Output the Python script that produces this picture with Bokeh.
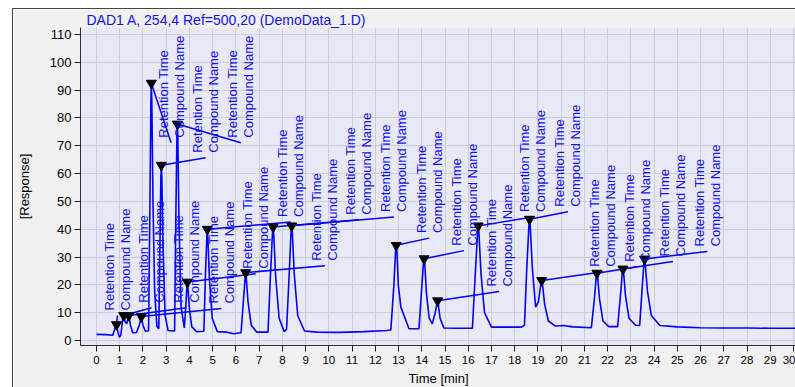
import math
from bokeh.plotting import figure
from bokeh.models import Range1d, FixedTicker, ColumnDataSource
from bokeh.embed import file_html
from bokeh.resources import INLINE
from bokeh.core.properties import value

# ---------------- data ----------------
chart_title = "DAD1 A, 254,4 Ref=500,20 (DemoData_1.D)"
x_label = "Time [min]"
y_label = "[Response]"
x_ticks = list(range(0, 31))
y_ticks = list(range(0, 111, 10))

# chromatogram trace (time in min, response)
signal_time = [
    0.00, 0.40, 0.70, 0.80, 0.86, 0.92, 0.98, 1.05, 1.12, 1.17, 1.24, 1.30, 1.34, 1.39, 1.46, 1.56,
    1.72, 1.84, 1.93, 2.00, 2.10, 2.24, 2.30, 2.34, 2.36, 2.38, 2.43, 2.50, 2.60, 2.68, 2.73, 2.77,
    2.79, 2.81, 2.86, 2.95, 3.08, 3.36, 3.41, 3.46, 3.48, 3.50, 3.55, 3.64, 3.78, 3.84, 3.89, 3.91,
    3.93, 3.99, 4.10, 4.30, 4.62, 4.69, 4.75, 4.77, 4.79, 4.86, 4.98, 5.20, 5.60, 5.90, 6.22, 6.33,
    6.40, 6.42, 6.44, 6.52, 6.66, 6.90, 7.38, 7.49, 7.57, 7.60, 7.63, 7.71, 7.86, 8.08, 8.18, 8.30,
    8.37, 8.40, 8.43, 8.51, 8.66, 8.95, 9.50, 10.50, 11.50, 12.50, 12.67, 12.80, 12.87, 12.90, 12.93, 12.99,
    13.10, 13.45, 13.88, 13.99, 14.07, 14.10, 14.13, 14.20, 14.32, 14.45, 14.58, 14.66, 14.68, 14.70, 14.79, 14.95,
    15.50, 16.18, 16.31, 16.40, 16.43, 16.46, 16.55, 16.70, 17.00, 17.60, 18.30, 18.42, 18.52, 18.61, 18.64, 18.67,
    18.76, 18.90, 19.02, 19.13, 19.16, 19.19, 19.29, 19.45, 19.75, 20.10, 20.50, 21.30, 21.43, 21.51, 21.54, 21.57,
    21.65, 21.80, 22.05, 22.43, 22.55, 22.63, 22.66, 22.69, 22.77, 22.92, 23.20, 23.38, 23.48, 23.56, 23.59, 23.62,
    23.71, 23.88, 24.25, 25.00, 26.00, 27.00, 28.00, 29.00, 30.50,
]
signal_resp = [
    2.2, 2.1, 1.9, 4.5, 5.7, 3.0, 1.2, 2.0, 7.5, 9.0, 6.5, 6.0, 7.5, 9.0, 5.5, 2.8,
    2.9, 5.5, 8.6, 5.5, 3.3, 3.5, 50.0, 86.0, 92.5, 86.0, 50.0, 18.0, 5.0, 4.2, 35.0, 59.0,
    63.0, 59.0, 35.0, 9.0, 3.6, 3.4, 42.0, 73.0, 77.8, 73.0, 42.0, 12.0, 4.5, 12.0, 19.5, 21.0,
    19.5, 12.0, 5.0, 3.2, 3.3, 24.0, 37.5, 40.0, 37.5, 22.0, 8.0, 3.2, 3.0, 2.4, 2.8, 15.0,
    23.0, 24.4, 23.0, 14.0, 5.5, 3.0, 3.0, 24.0, 38.0, 40.8, 38.0, 23.0, 8.0, 3.2, 4.0, 25.0,
    38.5, 41.2, 38.5, 24.0, 9.0, 3.4, 3.0, 2.9, 3.2, 3.6, 3.8, 20.0, 32.0, 34.2, 32.0, 20.0,
    12.0, 4.2, 4.2, 18.0, 27.5, 29.4, 27.5, 17.0, 8.0, 6.0, 10.0, 13.6, 14.3, 13.6, 8.0, 4.5,
    4.4, 4.4, 25.0, 38.5, 41.2, 38.5, 24.0, 10.0, 4.8, 4.8, 4.8, 5.5, 26.0, 41.0, 43.6, 41.0,
    26.0, 12.0, 14.0, 20.5, 21.6, 20.5, 13.0, 7.0, 5.2, 5.4, 4.9, 4.6, 15.0, 22.8, 24.2, 22.8,
    15.0, 7.0, 5.0, 5.0, 16.0, 24.2, 25.7, 24.2, 16.0, 8.0, 5.5, 5.4, 18.0, 27.6, 29.3, 27.6,
    18.0, 9.0, 5.4, 4.9, 4.6, 4.5, 4.5, 4.4, 4.4,
]

# peak apexes (marked with triangles)
peak_rt = [0.86, 1.17, 1.39, 1.93, 2.36, 2.79, 3.48, 3.91, 4.77, 6.42, 7.60,
           8.40, 12.90, 14.10, 14.68, 16.43, 18.64, 19.16, 21.54, 22.66, 23.59]
peak_height = [5.7, 9.0, 9.0, 8.6, 92.5, 63.0, 77.8, 21.0, 40.0, 24.4, 40.8,
               41.2, 34.2, 29.4, 14.3, 41.2, 43.6, 21.6, 24.2, 25.7, 29.3]

# where each peak's leader line ends and its label block starts
label_time = [0.90, 2.37, 3.86, 5.37, 3.21, 4.70, 6.21, 6.85, 8.36, 9.83, 11.29,
              12.80, 14.32, 15.82, 17.33, 18.78, 20.29, 21.80, 23.28, 24.81, 26.29]
label_resp = [9.0, 11.8, 11.8, 11.5, 71.1, 65.7, 71.1, 24.0, 42.6, 26.9, 43.4,
              44.4, 36.8, 32.3, 17.6, 44.4, 46.3, 24.7, 26.5, 28.4, 32.0]
label_line1 = "Retention Time"
label_line2 = "Compound Name"

# ---------------- figure ----------------
BLUE = "#0000ff"
TEXT_BLUE = "#1010f2"
FONT = "Liberation Sans"

p = figure(width=783, height=379, output_backend="svg", toolbar_location=None,
           x_range=Range1d(-0.69, 30.13), y_range=Range1d(-1.8, 112.5),
           min_border_left=67, min_border_right=0, min_border_top=17, min_border_bottom=41)
p.margin = (8, 0, 0, 12)
p.styles = {"border-left": "1px solid #444444", "border-top": "1px solid #444444",
            "box-sizing": "border-box"}

p.title.text = chart_title
p.title.text_color = TEXT_BLUE
p.title.text_font = FONT
p.title.text_font_size = "14px"
p.title.text_font_style = "normal"
p.title.align = "left"
p.title.offset = 6
p.title.standoff = 0

p.background_fill_color = "#e8e8f6"
p.border_fill_color = "#f1f1f1"
p.outline_line_color = None

for ax in (p.xaxis[0], p.yaxis[0]):
    ax.axis_line_color = "#303030"
    ax.major_tick_line_color = "#202020"
    ax.major_tick_out = 6
    ax.major_tick_in = 0
    ax.minor_tick_line_color = None
    ax.major_label_text_color = "black"
    ax.major_label_text_font = FONT
    ax.axis_label_text_font = FONT
    ax.axis_label_text_font_size = "13px"
    ax.axis_label_text_font_style = "normal"
    ax.axis_label_text_color = "black"

p.xaxis.ticker = FixedTicker(ticks=x_ticks)
p.yaxis.ticker = FixedTicker(ticks=y_ticks)
p.xaxis.major_label_text_font_size = "11.5px"
p.yaxis.major_label_text_font_size = "13px"
p.xaxis.major_label_standoff = 4
p.yaxis.major_label_standoff = 3
p.xaxis.axis_label = x_label
p.yaxis.axis_label = y_label
p.xaxis.axis_label_standoff = 4
p.yaxis.axis_label_standoff = 15

p.xgrid.ticker = FixedTicker(ticks=x_ticks)
p.ygrid.ticker = FixedTicker(ticks=y_ticks)
p.xgrid.grid_line_color = "#cdcdd6"
p.ygrid.grid_line_color = "#cdcdd6"

p.line(signal_time, signal_resp, line_color=BLUE, line_width=1.6)

src = ColumnDataSource(dict(
    rt=peak_rt, h=peak_height, lt=label_time, lr=label_resp,
    t1=[label_line1] * len(peak_rt), t2=[label_line2] * len(peak_rt),
))
p.segment(x0="rt", y0="h", x1="lt", y1="lr", source=src, line_color=BLUE, line_width=1.5)
p.scatter(x="rt", y="h", source=src, marker="inverted_triangle", size=10,
          fill_color="black", line_color="black")

for col, dx in (("t1", -8), ("t2", 8)):
    p.text(x="lt", y="lr", text=col, source=src, angle=math.pi / 2,
           text_align="left", text_baseline="middle", x_offset=dx, y_offset=-5,
           text_font=value(FONT), text_font_size="13px", text_color=TEXT_BLUE)

open("out.html", "w").write(file_html(p, INLINE))
